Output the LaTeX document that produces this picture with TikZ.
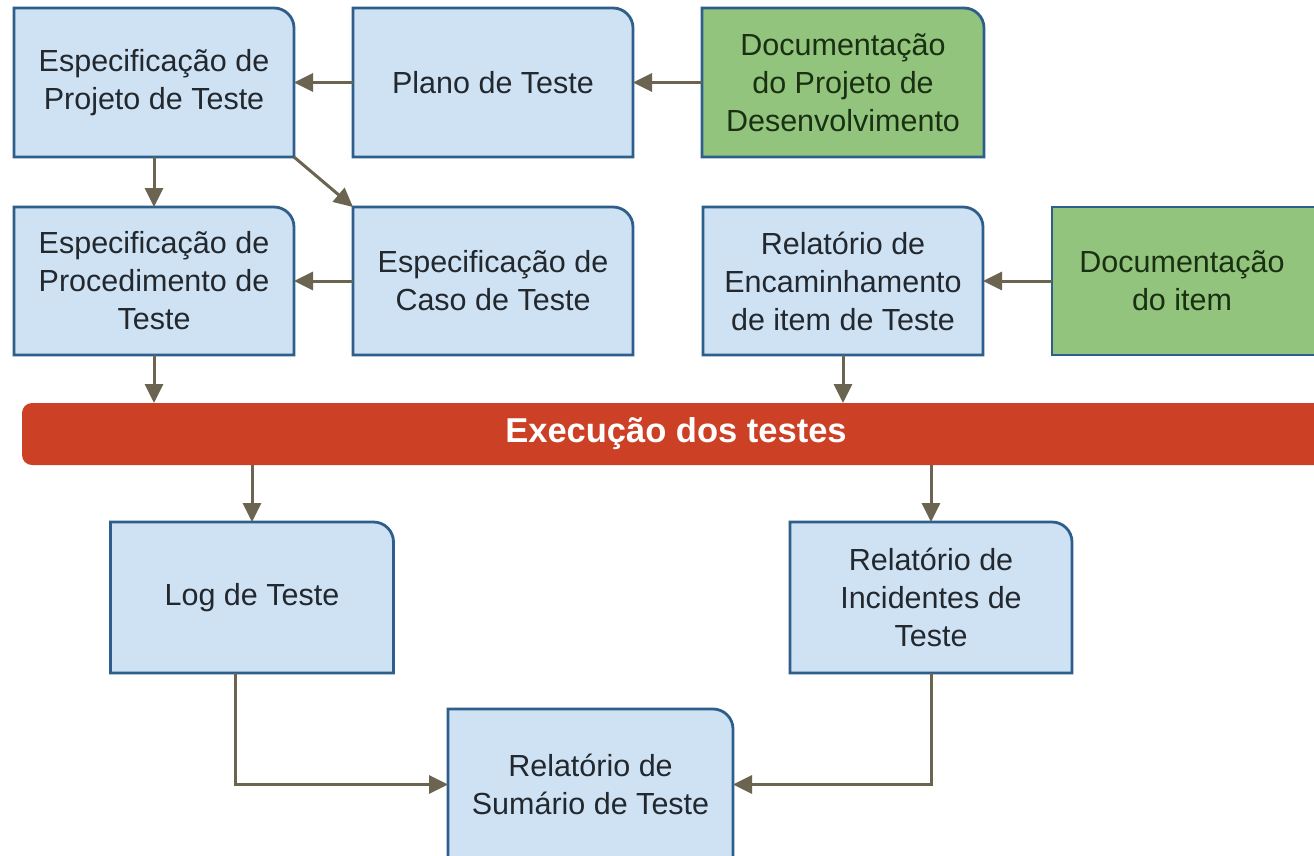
\documentclass[tikz,border=0pt]{standalone}
\usepackage{fontspec}
\setmainfont{Liberation Sans}
\usetikzlibrary{arrows.meta,backgrounds}
\definecolor{boxblue}{HTML}{CFE2F3}
\definecolor{boxgreen}{HTML}{93C47D}
\definecolor{bordc}{HTML}{2D5E8C}
\definecolor{barred}{HTML}{CC4125}
\definecolor{arrowc}{HTML}{6B6450}
\definecolor{txtblue}{HTML}{22282E}
\definecolor{txtgreen}{HTML}{1A3012}
\tikzset{
  ubox/.style={draw=none, minimum width=280pt, minimum height=149pt, inner sep=0pt, outer sep=0pt,
    align=center, font=\fontsize{30.5}{38}\selectfont, text=txtblue},
  gbox/.style={ubox, text=txtgreen},
  outl/.style={draw=bordc, line width=2.8pt},
  conn/.style={draw=arrowc, line width=3pt, -{Triangle[length=19pt,width=18pt]}},
  barbox/.style={fill=barred, rounded corners=10pt, minimum width=1308pt, minimum height=62pt,
    inner sep=0pt, outer sep=0pt, text=white, font=\bfseries\fontsize{34.5}{40}\selectfont}
}
\begin{document}
\begin{tikzpicture}[x=1pt,y=-1pt]
\useasboundingbox (0,0) rectangle (1314,855);
% boxes
\node[ubox] (b1) at (154,82.5) {Especificação de\\Projeto de Teste};
\node[ubox] (b2) at (493,82.5) {Plano de Teste};
\node[gbox, minimum width=282pt] (b3) at (843,82.5) {Documentação\\do Projeto de\\Desenvolvimento};
\node[ubox, minimum height=148pt] (b4) at (154,281) {Especificação de\\Procedimento de\\Teste};
\node[ubox, minimum height=148pt] (b5) at (493,281) {Especificação de\\Caso de Teste};
\node[ubox, minimum height=148pt] (b6) at (843,281) {Relatório de\\Encaminhamento\\de item de Teste};
\node[gbox, minimum width=260pt, minimum height=148pt] (b7) at (1182,281) {Documentação\\do item};
\node[barbox] (bar) at (676,434) {Execução dos testes};
\node[ubox, minimum width=283pt, minimum height=151pt] (b8) at (252,597.5) {Log de Teste};
\node[ubox, minimum width=282pt, minimum height=151pt] (b9) at (931,597.5) {Relatório de\\Incidentes de\\Teste};
\node[ubox, minimum width=285pt, minimum height=151pt] (b10) at (590.5,784.5) {Relatório de\\Sumário de Teste};
% outlines
\begin{scope}[on background layer]
\fill[white] (0,0) rectangle (1314,855);
\foreach \n/\f in {b1/boxblue,b2/boxblue,b3/boxgreen,b4/boxblue,b5/boxblue,b6/boxblue,b8/boxblue,b9/boxblue}
  \path[outl, fill=\f] (\n.south west) -- (\n.north west) [rounded corners=20pt] -- (\n.north east) [sharp corners] -- (\n.south east) -- cycle;
\path[outl, fill=boxgreen] (b7.south west) -- (b7.north west) -- ([xshift=30pt]b7.north east) -- ([xshift=30pt]b7.south east) -- cycle;
\path[outl, fill=boxblue] ([yshift=-30pt]b10.south west) -- (b10.north west) [rounded corners=20pt] -- (b10.north east) [sharp corners] -- ([yshift=-30pt]b10.south east) -- cycle;
\end{scope}
% connectors
\draw[conn] (b2) -- (b1);
\draw[conn] (b3) -- (b2);
\draw[conn] (b1) -- (b4);
\draw[conn] (b1.south east) -- (b5.north west);
\draw[conn] (b5) -- (b4);
\draw[conn] (b7) -- (b6);
\draw[conn] (b4.south) -- (b4.south |- bar.north);
\draw[conn] (b6.south) -- (b6.south |- bar.north);
\draw[conn] (bar.south -| b8.north) -- (b8.north);
\draw[conn] (bar.south -| b9.north) -- (b9.north);
\draw[conn] ([xshift=-17pt]b8.south) |- (b10.west);
\draw[conn] (b9.south) |- (b10.east);
\end{tikzpicture}
\end{document}
